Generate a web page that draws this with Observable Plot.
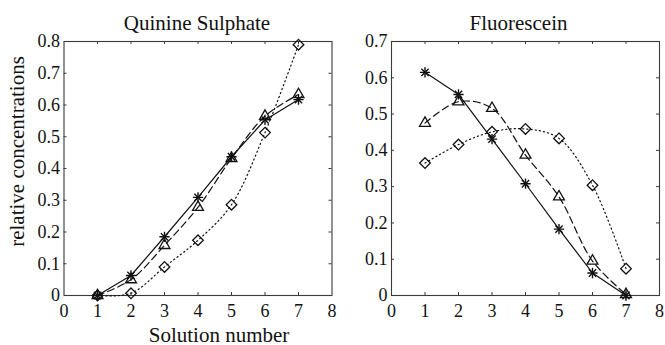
<!DOCTYPE html>
<html><head><meta charset="utf-8">
<script src="https://cdn.jsdelivr.net/npm/d3@7"></script>
<script src="https://cdn.jsdelivr.net/npm/@observablehq/plot@0.6"></script>
<style>
body{margin:0;background:#fff}
#wrap{display:flex;width:665px;height:345px;overflow:hidden}
#wrap svg{overflow:visible;flex:none}
</style></head><body><div id="wrap"></div>
<script>
const solutions = [1, 2, 3, 4, 5, 6, 7];
const xTicks = [0, 1, 2, 3, 4, 5, 6, 7, 8];
const quinineYTicks = [0, 0.1, 0.2, 0.3, 0.4, 0.5, 0.6, 0.7, 0.8];
const fluorYTicks = [0, 0.1, 0.2, 0.3, 0.4, 0.5, 0.6, 0.7];
const titles = ["Quinine Sulphate", "Fluorescein"];
const xLabel = "Solution number";
const yLabel = "relative concentrations";

const quinineStar = [0, 0.063, 0.185, 0.309, 0.437, 0.553, 0.617];
const quinineTriangle = [0, 0.05, 0.158, 0.278, 0.432, 0.565, 0.633];
const quinineDiamond = [0, 0.007, 0.09, 0.174, 0.286, 0.513, 0.79];

const fluorStar = [0.615, 0.554, 0.431, 0.308, 0.183, 0.062, 0];
const fluorTriangle = [0.475, 0.534, 0.516, 0.387, 0.272, 0.095, 0.003];
const fluorDiamond = [0.365, 0.416, 0.451, 0.459, 0.433, 0.304, 0.074];

const FONT = "Liberation Serif, Times New Roman, serif";
const H = 345, MT = 41, MB = 50;
const frameH = H - MT - MB;
const TL = 3;
const INK = "#111";
const BOX = "#3a3a3a";

function panel(o) {
  const rows = vals => solutions.map((s, i) => ({x: s, y: vals[i]}));
  const frameW = o.width - o.ml - o.mr;
  const inner = xTicks.slice(1, -1);
  const innerY = o.yTicks.slice(1, -1);
  const marks = [
    Plot.text(xTicks, {x: d => d, text: d => String(d), frameAnchor: "bottom", lineAnchor: "top", dy: 8.5, fontSize: 18, fontFamily: FONT, fill: INK}),
    Plot.text(o.yTicks, {y: d => d, text: d => String(d), frameAnchor: "left", textAnchor: "end", lineAnchor: "middle", dx: -4, fontSize: 18, fontFamily: FONT, fill: INK}),
    Plot.tickX(inner, {x: d => d, insetTop: frameH - TL, stroke: BOX}),
    Plot.tickX(inner, {x: d => d, insetBottom: frameH - TL, stroke: BOX}),
    Plot.tickY(innerY, {y: d => d, insetRight: frameW - TL, stroke: BOX}),
    Plot.tickY(innerY, {y: d => d, insetLeft: frameW - TL, stroke: BOX}),
    Plot.frame({stroke: BOX, strokeWidth: 1.1}),
    Plot.line(rows(o.dia), {x: "x", y: "y", curve: "catmull-rom", stroke: INK, strokeWidth: 1.2, strokeDasharray: "1.2 3"}),
    Plot.line(rows(o.tri), {x: "x", y: "y", curve: "catmull-rom", stroke: INK, strokeWidth: 1.2, strokeDasharray: "7 4"}),
    Plot.line(rows(o.star), {x: "x", y: "y", stroke: INK, strokeWidth: 1.2}),
    Plot.dot(rows(o.dia), {x: "x", y: "y", symbol: "diamond2", r: 4.8, stroke: INK, fill: "none", strokeWidth: 1.3}),
    Plot.dot(rows(o.tri), {x: "x", y: "y", symbol: "triangle2", r: 5.2, stroke: INK, fill: "none", strokeWidth: 1.3}),
    Plot.dot(rows(o.star), {x: "x", y: "y", symbol: "plus", r: 3.4, stroke: INK, strokeWidth: 1.4}),
    Plot.dot(rows(o.star), {x: "x", y: "y", symbol: "times", r: 3.4, stroke: INK, strokeWidth: 1.4}),
    Plot.text([o.title], {text: d => d, frameAnchor: "top", lineAnchor: "bottom", dy: -12, dx: o.titleDx, fontSize: 21, fontFamily: FONT, fill: INK})
  ];
  if (o.xLabel) marks.push(Plot.text([o.xLabel], {text: d => d, frameAnchor: "bottom", lineAnchor: "bottom", dy: 46, dx: 21, fontSize: 21, fontFamily: FONT, fill: INK}));
  if (o.yLabel) marks.push(Plot.text([o.yLabel], {text: d => d, frameAnchor: "left", textAnchor: "middle", lineAnchor: "bottom", rotate: -90, dx: -40, dy: -17, fontSize: 21, fontFamily: FONT, fill: INK}));
  return Plot.plot({
    width: o.width, height: H,
    marginTop: MT, marginBottom: MB, marginLeft: o.ml, marginRight: o.mr,
    style: {fontFamily: FONT, fontSize: "17px", background: "transparent", overflow: "visible"},
    x: {domain: [0, 8], axis: null},
    y: {domain: o.yDomain, axis: null},
    marks
  });
}

const wrap = document.getElementById("wrap");
wrap.appendChild(panel({
  width: 340, ml: 63.5, mr: 8.5, title: titles[0], titleDx: -1,
  star: quinineStar, tri: quinineTriangle, dia: quinineDiamond,
  yDomain: [0, 0.8], yTicks: quinineYTicks, xLabel, yLabel
}));
wrap.appendChild(panel({
  width: 325, ml: 51, mr: 6, title: titles[1], titleDx: -7,
  star: fluorStar, tri: fluorTriangle, dia: fluorDiamond,
  yDomain: [0, 0.7], yTicks: fluorYTicks
}));
</script></body></html>
